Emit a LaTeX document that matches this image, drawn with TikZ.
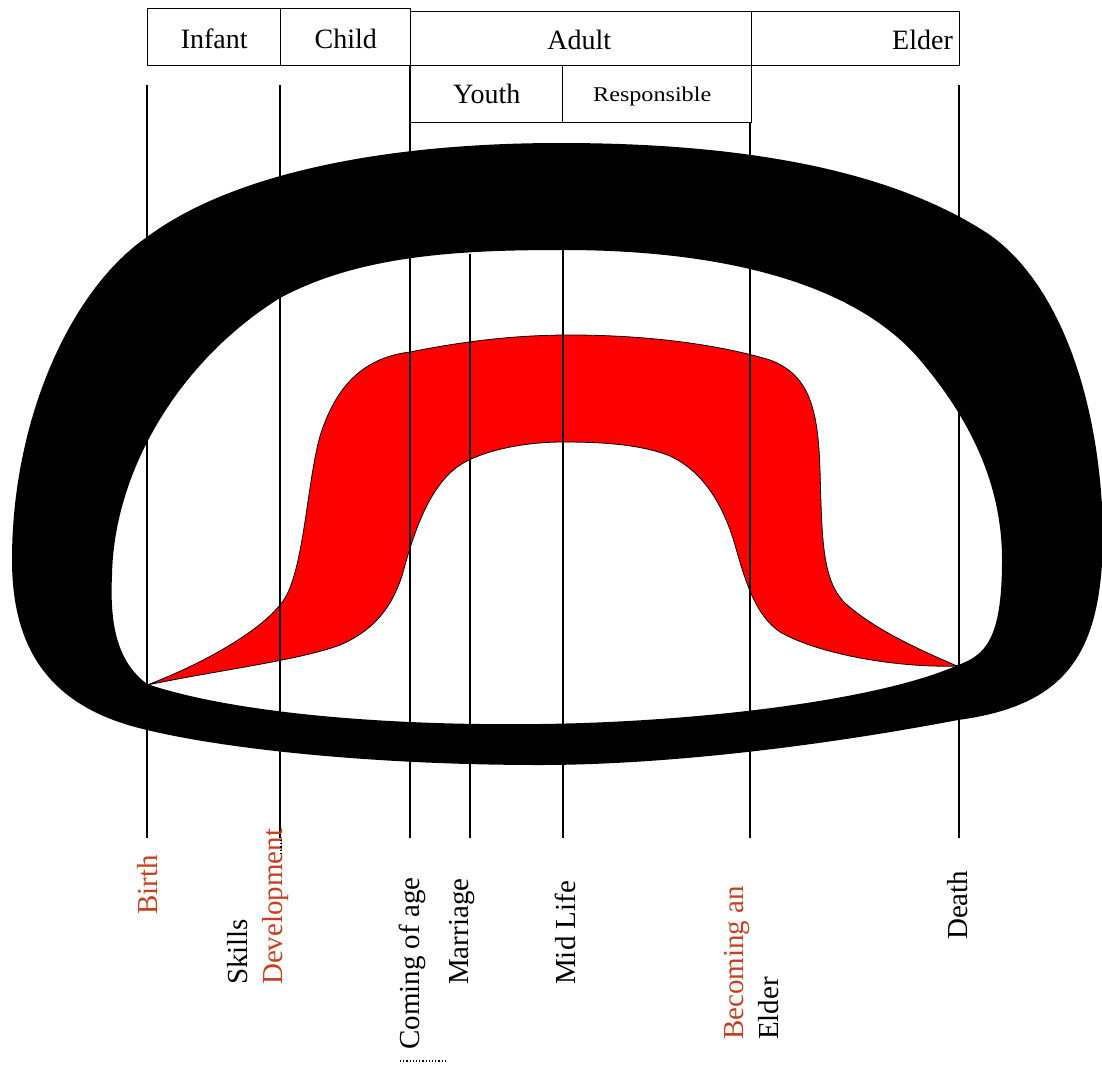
\documentclass[tikz,border=0pt]{standalone}
\usepackage{fontspec}
\setmainfont{Liberation Serif}
\definecolor{labred}{RGB}{196,64,32}
\begin{document}
\begin{tikzpicture}[x=1pt,y=-1pt,
  box/.style={draw=black, line width=1.4pt, inner sep=0pt, anchor=north west},
  vline/.style={draw=black, line width=1.1pt},
  lab/.style={font=\fontsize{29}{35}\selectfont, rotate=90, anchor=west, inner sep=0pt, align=left},
  head/.style={font=\fontsize{28}{30}\selectfont}
]
\useasboundingbox (0,0) rectangle (1102,1068);

% red band
\filldraw[fill=red, draw=black, line width=0.8pt]
  (147,685) .. controls (200,665) and (265,630) .. (285,598)
  .. controls (305,565) and (308,470) .. (322,430)
  .. controls (336,390) and (360,358) .. (410,352)
  .. controls (470,340) and (520,335) .. (570,335)
  .. controls (650,335) and (720,345) .. (770,360)
  .. controls (810,375) and (818,410) .. (820,470)
  .. controls (822,540) and (822,580) .. (845,603)
  .. controls (875,630) and (920,650) .. (957,666)
  .. controls (900,668) and (820,655) .. (780,632)
  .. controls (755,615) and (745,580) .. (735,545)
  .. controls (722,500) and (700,470) .. (670,456)
  .. controls (640,444) and (600,442) .. (563,442)
  .. controls (520,442) and (480,452) .. (460,465)
  .. controls (430,485) and (415,530) .. (405,565)
  .. controls (395,605) and (375,630) .. (340,645)
  .. controls (300,660) and (220,670) .. (147,685)
  -- cycle;

% timeline marker coordinates
\coordinate (b1) at (147,838);
\coordinate (b2) at (280,838);
\coordinate (b3) at (410,838);
\coordinate (b4) at (470,838);
\coordinate (b5) at (563,838);
\coordinate (b6) at (750,838);
\coordinate (b7) at (959,838);
\coordinate (t1) at (147,85);
\coordinate (t2) at (280,85);
\coordinate (t3) at (410,65);
\coordinate (t4) at (470,254);
\coordinate (t5) at (563,248);
\coordinate (t6) at (750,122);
\coordinate (t7) at (959,85);

\draw[vline] (t1) -- (b1);
\draw[vline] (t2) -- (b2);
\draw[vline] (t3) -- (b3);
\draw[vline] (t4) -- (b4);
\draw[line width=2.2pt] (t5) -- (b5);
\draw[vline] (t6) -- (b6);
\draw[vline] (t7) -- (b7);

% black ring
\fill[black, even odd rule]
  (560,143) .. controls (760,143) and (900,175) .. (990,235)
  .. controls (1060,285) and (1100,400) .. (1103,530)
  .. controls (1103,650) and (1070,705) .. (958,720)
  .. controls (800,750) and (650,765) .. (540,765)
  .. controls (380,765) and (230,750) .. (147,730)
  .. controls (60,710) and (12,660) .. (12,560)
  .. controls (12,420) and (70,290) .. (147,237)
  .. controls (230,175) and (380,143) .. (560,143) -- cycle
  (563,250) .. controls (720,250) and (854,282) .. (920,360)
  .. controls (975,425) and (1002,490) .. (1002,560)
  .. controls (1002,640) and (985,655) .. (958,665)
  .. controls (880,700) and (700,722) .. (540,724)
  .. controls (380,726) and (230,712) .. (147,684)
  .. controls (115,660) and (110,620) .. (112,575)
  .. controls (114,470) and (180,360) .. (280,298)
  .. controls (360,255) and (460,250) .. (563,250) -- cycle;

% header boxes
\node[box, minimum width=133pt, minimum height=57pt] (infant) at (147,8) {};
\node[box, minimum width=130pt, minimum height=57pt] (child) at (280,8) {};
\node[box, minimum width=341pt, minimum height=54pt] (adult) at (410,11) {};
\node[box, minimum width=208pt, minimum height=54pt] (elder) at (751,11) {};
\node[box, minimum width=152pt, minimum height=57pt] (youth) at (410,65) {};
\node[box, minimum width=189pt, minimum height=57pt] (resp) at (562,65) {};

\node[head] (tinfant) at ([yshift=-2pt]infant.center) {Infant};
\node[head] (tchild) at ([yshift=-2pt]child.center) {Child};
\node[head] (tadult) at ([xshift=-2pt,yshift=-1pt]adult.center) {Adult};
\node[head, anchor=east] (telder) at ([xshift=-4pt,yshift=-1pt]elder.east) {Elder};
\node[head] (tyouth) at (youth.center) {Youth};
\node[font=\fontsize{21}{24}\selectfont] (tresp) at ([xshift=-5pt,yshift=-2pt]resp.center) {\scalebox{1.15}[1]{Responsible}};

% bottom labels
\node[lab, text=labred] (birth) at (148,915) {Birth};
\node[lab] (skills) at (258,985) {Skills\\\textcolor{labred}{Development}};
\node[lab] (coming) at (412,1050) {Coming of age};
\node[lab] (marriage) at (462,985) {Marriage};
\node[lab] (midlife) at (565,985) {Mid Life};
\node[lab] (becoming) at (752,1040) {\textcolor{labred}{Becoming an}\\Elder};
\node[lab] (death) at (958,940) {Death};

\coordinate (d1) at (400,1061);
\coordinate (d2) at (447,1061);
\draw[line width=1.2pt, dotted] (d1) -- (d2);
\coordinate (d3) at (281,840);
\coordinate (d4) at (281,853);
\draw[line width=1.2pt, dotted] (d3) -- (d4);
\end{tikzpicture}
\end{document}
